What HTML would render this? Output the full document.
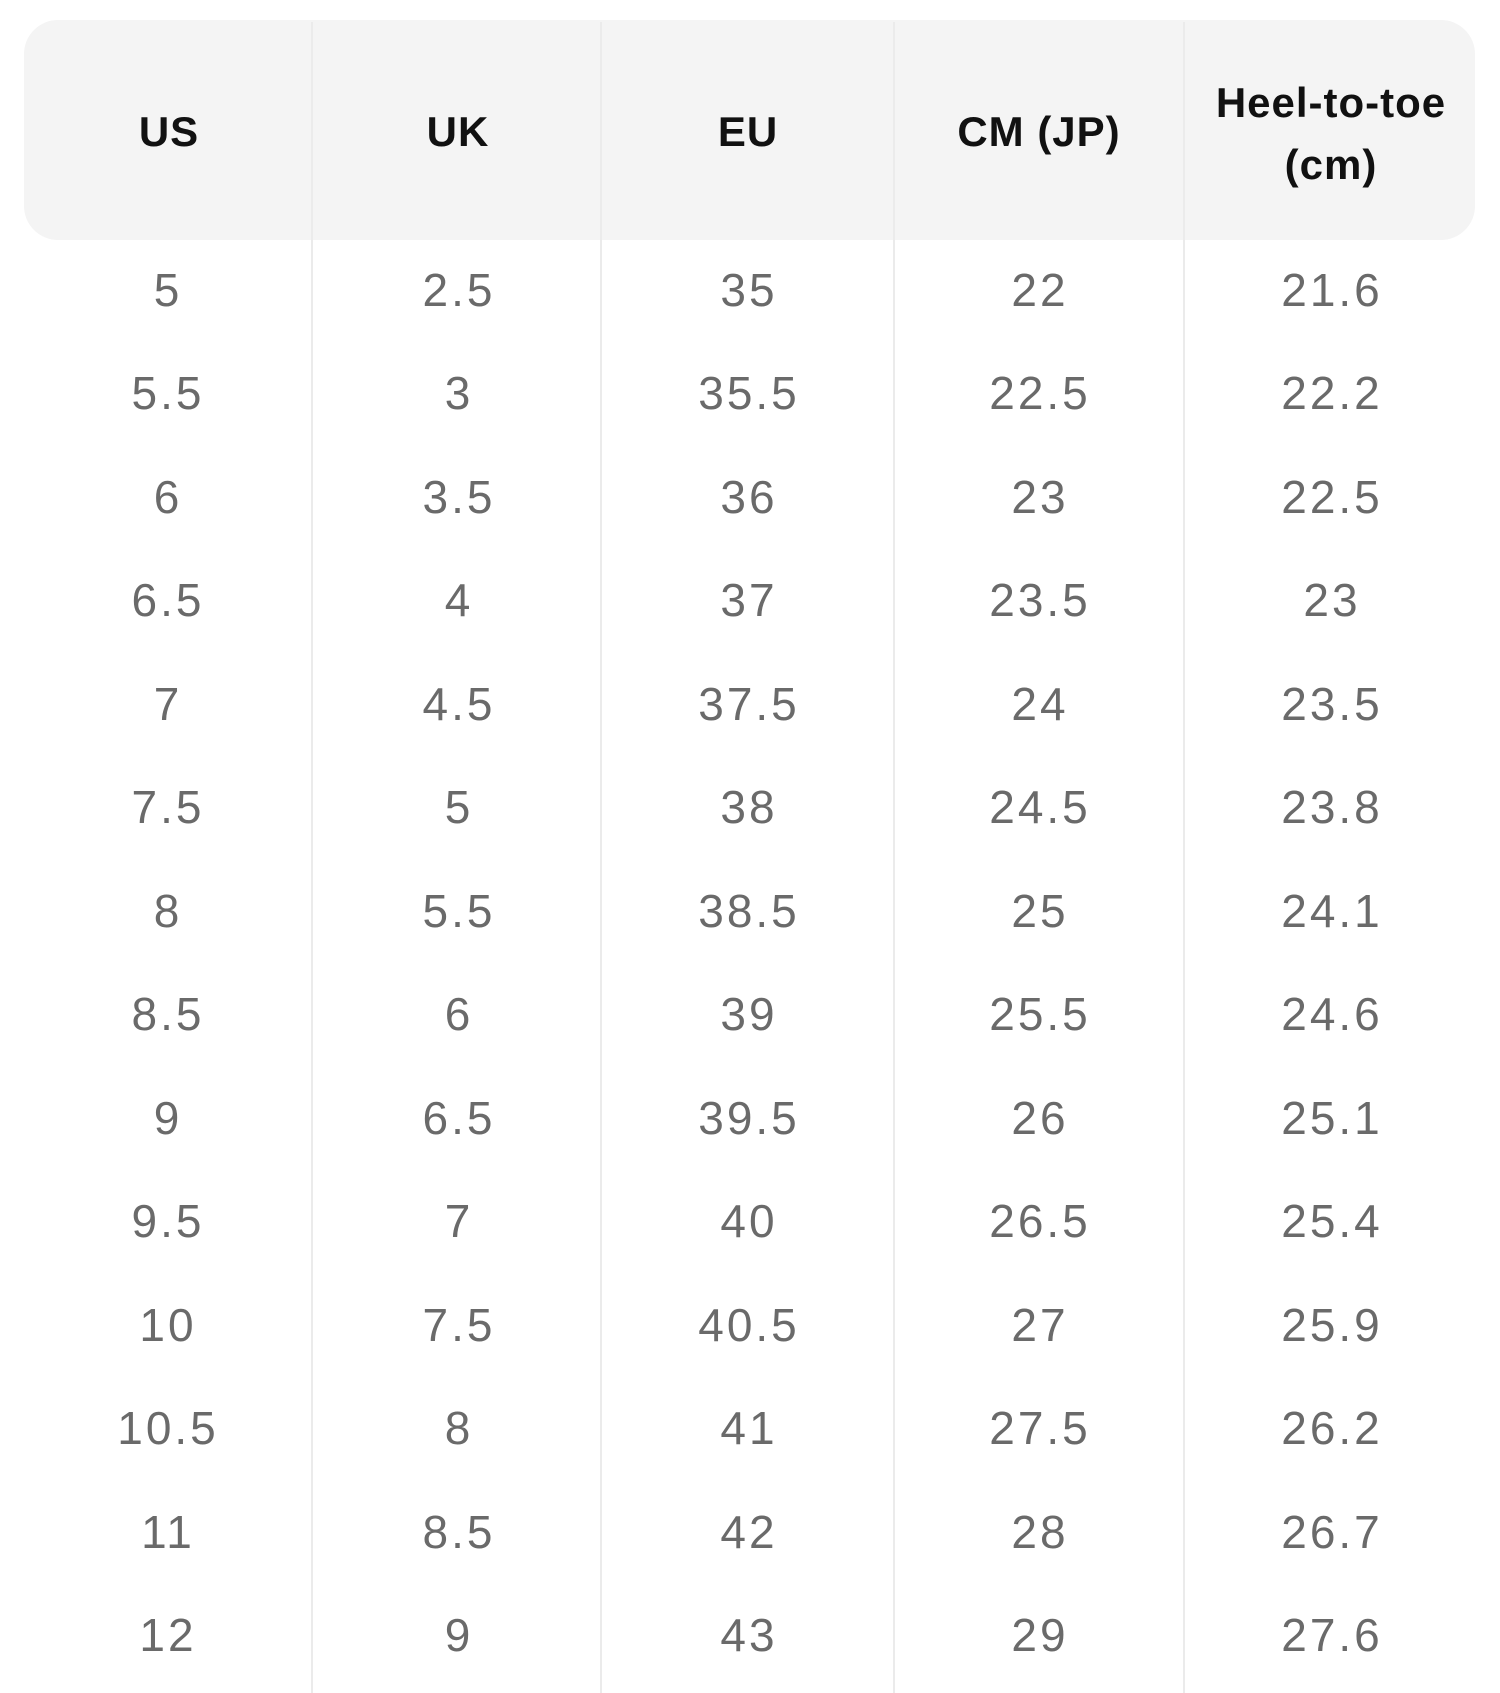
<!DOCTYPE html>
<html><head><meta charset="utf-8"><style>
html,body{margin:0;padding:0;background:#fff;}
body{width:1500px;height:1693px;position:relative;overflow:hidden;font-family:"Liberation Sans",sans-serif;}
.hdr{position:absolute;left:24px;top:20px;width:1451px;height:220px;background:#f4f4f4;border-radius:34px;}
.vl{position:absolute;top:22px;width:2px;height:1671px;background:#ebebeb;}
.h{position:absolute;font-weight:bold;color:#111;font-size:42px;text-align:center;width:300px;line-height:62px;letter-spacing:1px;}
.c{position:absolute;color:#6a6a6a;font-size:46px;text-align:center;width:260px;line-height:60px;letter-spacing:3px;}
</style></head><body>
<div class="hdr"></div>
<div class="vl" style="left:311px"></div>
<div class="vl" style="left:600px"></div>
<div class="vl" style="left:893px"></div>
<div class="vl" style="left:1183px"></div>
<div class="h" style="left:19px;top:101px">US</div>
<div class="h" style="left:308px;top:101px">UK</div>
<div class="h" style="left:598px;top:101px">EU</div>
<div class="h" style="left:889px;top:101px">CM (JP)</div>
<div class="h" style="left:1181px;top:72px">Heel-to-toe<br>(cm)</div>
<div id="rows"></div>
<script>
var d=[["5","2.5","35","22","21.6"],["5.5","3","35.5","22.5","22.2"],["6","3.5","36","23","22.5"],["6.5","4","37","23.5","23"],["7","4.5","37.5","24","23.5"],["7.5","5","38","24.5","23.8"],["8","5.5","38.5","25","24.1"],["8.5","6","39","25.5","24.6"],["9","6.5","39.5","26","25.1"],["9.5","7","40","26.5","25.4"],["10","7.5","40.5","27","25.9"],["10.5","8","41","27.5","26.2"],["11","8.5","42","28","26.7"],["12","9","43","29","27.6"]];
var cx=[168,459,749,1040,1332],h="";
for(var i=0;i<d.length;i++){var y=289.5+i*103.5-30;for(var j=0;j<5;j++){h+='<div class="c" style="left:'+(cx[j]-130)+'px;top:'+y+'px">'+d[i][j]+'</div>';}}
document.getElementById("rows").innerHTML=h;
</script>
</body></html>
